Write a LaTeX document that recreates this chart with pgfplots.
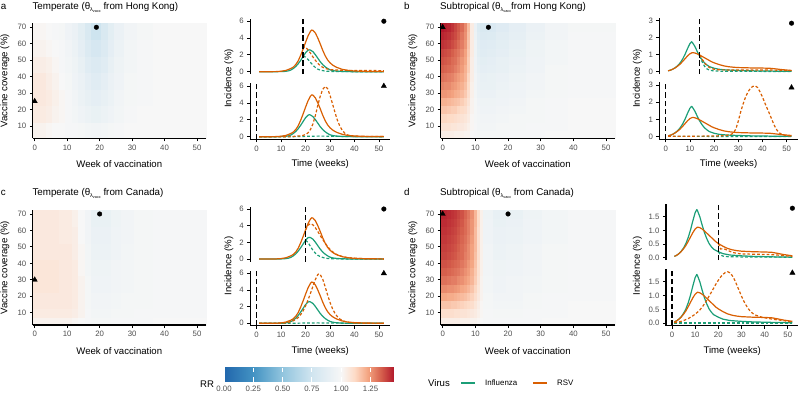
\documentclass[border=0pt]{standalone}
\usepackage{pgfplots}
\pgfplotsset{compat=1.18}
\usepackage{pgfplotstable}
\usepackage{fontspec}
\setmainfont{Liberation Sans}
\definecolor{flu}{HTML}{1B9E77}
\definecolor{rsv}{HTML}{D95F02}
\definecolor{tickgray}{HTML}{4D4D4D}
\newcommand\fT{\fontsize{9.8}{11}\selectfont}
\newcommand\fL{\fontsize{9.6}{11}\selectfont}
\newcommand\fK{\fontsize{7.8}{9}\selectfont}
\newcommand\fS{\fontsize{7.9}{9}\selectfont}
\newcommand\thl{θ\raisebox{-0.35ex}{\fontsize{5.5}{6}\selectfont λ\raisebox{-0.35ex}{\fontsize{3.8}{4}\selectfont vacc}}}
\pgfplotsset{
  colormap={rr}{[1pt] rgb255(0pt)=(33,102,172); rgb255(250pt)=(67,147,195); rgb255(500pt)=(146,197,222); rgb255(750pt)=(209,229,240); rgb255(1000pt)=(247,247,247); rgb255(1113pt)=(253,219,199); rgb255(1225pt)=(244,165,130); rgb255(1338pt)=(214,96,77); rgb255(1450pt)=(178,24,43)},
  base/.style={scale only axis, anchor=south west, clip=false,
    axis y line*=left, axis line style={-, line width=1.1pt},
    tick align=outside, major tick length=3pt,
    tick style={black, line width=0.8pt},
    tick label style={font=\fK, text=tickgray},
    /pgf/number format/assume math mode=true},
  hm/.style={base, height=115.15pt,
    xmin=-0.6, xmax=52.7, ymin=2.5, ymax=72.5,
    xtick={0,10,...,50}, ytick={10,20,...,70},
    axis x line*=bottom,
    colormap name=rr, point meta min=0, point meta max=1.45},
  lp/.style={base, xmin=-2.6, xmax=54.6},
  lptop/.style={lp, axis x line=none},
  lpbot/.style={lp, axis x line*=bottom, xtick={0,10,...,50}},
  hmplot/.style={surf, shader=flat corner, mesh/cols=#1, point meta=explicit},
  fs/.style={flu, line width=1.2pt, line join=round},
  fd/.style={flu, line width=1.2pt, dash pattern=on 2.8pt off 2pt},
  rs/.style={rsv, line width=1.2pt, line join=round},
  rd/.style={rsv, line width=1.2pt, dash pattern=on 2.8pt off 2pt},
  vl/.style={black, line width=1.3pt, dash pattern=on 5.5pt off 2.8pt},
  dot/.style={only marks, mark=*, mark size=2.3pt, black},
  tri/.style={only marks, mark=triangle*, mark size=3pt, black},
}
\pgfplotstableread{
x y v
-0.6 2.5 1.02
1.5 2.5 1.02
3.5 2.5 1.01
5.5 2.5 1.00
7.5 2.5 1.00
9.5 2.5 0.99
11.5 2.5 0.99
13.5 2.5 0.98
15.5 2.5 0.97
17.5 2.5 0.96
20.5 2.5 0.97
22.5 2.5 0.98
24.5 2.5 0.99
27.5 2.5 1.00
31.5 2.5 1.00
36.5 2.5 1.00
52.7 2.5 1
-0.6 12.5 1.05
1.5 12.5 1.05
3.5 12.5 1.04
5.5 12.5 1.02
7.5 12.5 1.01
9.5 12.5 0.99
11.5 12.5 0.97
13.5 12.5 0.95
15.5 12.5 0.93
17.5 12.5 0.91
20.5 12.5 0.93
22.5 12.5 0.95
24.5 12.5 0.97
27.5 12.5 0.99
31.5 12.5 1.00
36.5 12.5 1.00
52.7 12.5 1
-0.6 22.5 1.06
1.5 22.5 1.06
3.5 22.5 1.05
5.5 22.5 1.03
7.5 22.5 1.01
9.5 22.5 0.99
11.5 22.5 0.96
13.5 22.5 0.93
15.5 22.5 0.90
17.5 22.5 0.88
20.5 22.5 0.90
22.5 22.5 0.93
24.5 22.5 0.96
27.5 22.5 0.98
31.5 22.5 0.99
36.5 22.5 1.00
52.7 22.5 1
-0.6 32.5 1.06
1.5 32.5 1.06
3.5 32.5 1.04
5.5 32.5 1.02
7.5 32.5 1.00
9.5 32.5 0.98
11.5 32.5 0.95
13.5 32.5 0.92
15.5 32.5 0.88
17.5 32.5 0.85
20.5 32.5 0.88
22.5 32.5 0.92
24.5 32.5 0.95
27.5 32.5 0.98
31.5 32.5 0.99
36.5 32.5 1.00
52.7 32.5 1
-0.6 42.5 1.04
1.5 42.5 1.04
3.5 42.5 1.03
5.5 42.5 1.01
7.5 42.5 0.99
9.5 42.5 0.97
11.5 42.5 0.94
13.5 42.5 0.90
15.5 42.5 0.85
17.5 42.5 0.82
20.5 42.5 0.85
22.5 42.5 0.90
24.5 42.5 0.94
27.5 42.5 0.97
31.5 42.5 0.99
36.5 42.5 1.00
52.7 42.5 1
-0.6 52.5 1.02
1.5 52.5 1.02
3.5 52.5 1.01
5.5 52.5 1.00
7.5 52.5 0.99
9.5 52.5 0.96
11.5 52.5 0.93
13.5 52.5 0.88
15.5 52.5 0.82
17.5 52.5 0.78
20.5 52.5 0.82
22.5 52.5 0.88
24.5 52.5 0.93
27.5 52.5 0.97
31.5 52.5 0.99
36.5 52.5 1.00
52.7 52.5 1
-0.6 62.5 1.01
1.5 62.5 1.01
3.5 62.5 1.00
5.5 62.5 0.99
7.5 62.5 0.98
9.5 62.5 0.95
11.5 62.5 0.92
13.5 62.5 0.87
15.5 62.5 0.80
17.5 62.5 0.74
20.5 62.5 0.80
22.5 62.5 0.87
24.5 62.5 0.92
27.5 62.5 0.96
31.5 62.5 0.98
36.5 62.5 1.00
52.7 62.5 1
-0.6 72.5 1
1.5 72.5 1
3.5 72.5 1
5.5 72.5 1
7.5 72.5 1
9.5 72.5 1
11.5 72.5 1
13.5 72.5 1
15.5 72.5 1
17.5 72.5 1
20.5 72.5 1
22.5 72.5 1
24.5 72.5 1
27.5 72.5 1
31.5 72.5 1
36.5 72.5 1
52.7 72.5 1
}\hmA
\pgfplotstableread{
x y v
-0.6 2.5 1.02
3.5 2.5 1.02
7.5 2.5 1.02
11.5 2.5 1.01
13.5 2.5 1.00
15.5 2.5 0.99
17.5 2.5 0.98
20.5 2.5 0.98
23.5 2.5 0.99
26.5 2.5 0.99
30.5 2.5 0.99
36.5 2.5 1.00
52.7 2.5 1
-0.6 7.5 1.05
3.5 7.5 1.05
7.5 7.5 1.05
11.5 7.5 1.04
13.5 7.5 1.02
15.5 7.5 0.99
17.5 7.5 0.97
20.5 7.5 0.97
23.5 7.5 0.98
26.5 7.5 0.98
30.5 7.5 0.99
36.5 7.5 0.99
52.7 7.5 1
-0.6 12.5 1.06
3.5 12.5 1.06
7.5 12.5 1.06
11.5 12.5 1.05
13.5 12.5 1.02
15.5 12.5 0.98
17.5 12.5 0.96
20.5 12.5 0.96
23.5 12.5 0.97
26.5 12.5 0.98
30.5 12.5 0.98
36.5 12.5 0.99
52.7 12.5 1
-0.6 22.5 1.07
3.5 22.5 1.07
7.5 22.5 1.06
11.5 22.5 1.05
13.5 22.5 1.02
15.5 22.5 0.98
17.5 22.5 0.95
20.5 22.5 0.95
23.5 22.5 0.96
26.5 22.5 0.97
30.5 22.5 0.98
36.5 22.5 0.99
52.7 22.5 1
-0.6 32.5 1.07
3.5 32.5 1.07
7.5 32.5 1.06
11.5 32.5 1.05
13.5 32.5 1.01
15.5 32.5 0.97
17.5 32.5 0.94
20.5 32.5 0.94
23.5 32.5 0.96
26.5 32.5 0.97
30.5 32.5 0.98
36.5 32.5 0.99
52.7 32.5 1
-0.6 42.5 1.06
3.5 42.5 1.06
7.5 42.5 1.06
11.5 42.5 1.04
13.5 42.5 1.01
15.5 42.5 0.97
17.5 42.5 0.93
20.5 42.5 0.93
23.5 42.5 0.95
26.5 42.5 0.97
30.5 42.5 0.98
36.5 42.5 0.99
52.7 42.5 1
-0.6 52.5 1.06
3.5 52.5 1.06
7.5 52.5 1.05
11.5 52.5 1.04
13.5 52.5 1.00
15.5 52.5 0.96
17.5 52.5 0.92
20.5 52.5 0.92
23.5 52.5 0.95
26.5 52.5 0.96
30.5 52.5 0.98
36.5 52.5 0.99
52.7 52.5 1
-0.6 62.5 1.06
3.5 62.5 1.06
7.5 62.5 1.05
11.5 62.5 1.03
13.5 62.5 1.00
15.5 62.5 0.96
17.5 62.5 0.91
20.5 62.5 0.91
23.5 62.5 0.94
26.5 62.5 0.96
30.5 62.5 0.98
36.5 62.5 0.99
52.7 62.5 1
-0.6 72.5 1
3.5 72.5 1
7.5 72.5 1
11.5 72.5 1
13.5 72.5 1
15.5 72.5 1
17.5 72.5 1
20.5 72.5 1
23.5 72.5 1
26.5 72.5 1
30.5 72.5 1
36.5 72.5 1
52.7 72.5 1
}\hmC
\pgfplotstableread{
x y v
-0.6 2.5 1.04
0.5 2.5 1.04
1.5 2.5 1.04
2.5 2.5 1.04
3.5 2.5 1.03
4.5 2.5 1.03
5.5 2.5 1.03
6.5 2.5 1.02
7.5 2.5 1.02
8.5 2.5 1.00
9.5 2.5 0.99
10.5 2.5 0.98
11.5 2.5 0.98
13.5 2.5 0.98
16.5 2.5 0.98
20.5 2.5 0.99
25.5 2.5 0.99
31.5 2.5 1.00
38.5 2.5 1.00
52.7 2.5 1
-0.6 7.5 1.08
0.5 7.5 1.08
1.5 7.5 1.08
2.5 7.5 1.07
3.5 7.5 1.07
4.5 7.5 1.06
5.5 7.5 1.06
6.5 7.5 1.05
7.5 7.5 1.03
8.5 7.5 1.01
9.5 7.5 0.99
10.5 7.5 0.97
11.5 7.5 0.97
13.5 7.5 0.97
16.5 7.5 0.98
20.5 7.5 0.98
25.5 7.5 0.99
31.5 7.5 0.99
38.5 7.5 1.00
52.7 7.5 1
-0.6 12.5 1.12
0.5 12.5 1.12
1.5 12.5 1.11
2.5 12.5 1.11
3.5 12.5 1.10
4.5 12.5 1.09
5.5 12.5 1.08
6.5 12.5 1.07
7.5 12.5 1.05
8.5 12.5 1.01
9.5 12.5 0.98
10.5 12.5 0.97
11.5 12.5 0.96
13.5 12.5 0.96
16.5 12.5 0.97
20.5 12.5 0.98
25.5 12.5 0.98
31.5 12.5 0.99
38.5 12.5 1.00
52.7 12.5 1
-0.6 17.5 1.16
0.5 17.5 1.16
1.5 17.5 1.15
2.5 17.5 1.14
3.5 17.5 1.14
4.5 17.5 1.12
5.5 17.5 1.11
6.5 17.5 1.10
7.5 17.5 1.06
8.5 17.5 1.02
9.5 17.5 0.98
10.5 17.5 0.96
11.5 17.5 0.95
13.5 17.5 0.95
16.5 17.5 0.96
20.5 17.5 0.97
25.5 17.5 0.98
31.5 17.5 0.99
38.5 17.5 1.00
52.7 17.5 1
-0.6 22.5 1.20
0.5 22.5 1.20
1.5 22.5 1.19
2.5 22.5 1.18
3.5 22.5 1.17
4.5 22.5 1.16
5.5 22.5 1.14
6.5 22.5 1.12
7.5 22.5 1.08
8.5 22.5 1.02
9.5 22.5 0.98
10.5 22.5 0.95
11.5 22.5 0.94
13.5 22.5 0.94
16.5 22.5 0.95
20.5 22.5 0.96
25.5 22.5 0.98
31.5 22.5 0.99
38.5 22.5 1.00
52.7 22.5 1
-0.6 27.5 1.25
0.5 27.5 1.25
1.5 27.5 1.24
2.5 27.5 1.23
3.5 27.5 1.21
4.5 27.5 1.20
5.5 27.5 1.18
6.5 27.5 1.15
7.5 27.5 1.10
8.5 27.5 1.03
9.5 27.5 0.97
10.5 27.5 0.93
11.5 27.5 0.92
13.5 27.5 0.92
16.5 27.5 0.94
20.5 27.5 0.95
25.5 27.5 0.97
31.5 27.5 0.98
38.5 27.5 0.99
52.7 27.5 1
-0.6 32.5 1.28
0.5 32.5 1.27
1.5 32.5 1.27
2.5 32.5 1.25
3.5 32.5 1.24
4.5 32.5 1.22
5.5 32.5 1.20
6.5 32.5 1.17
7.5 32.5 1.11
8.5 32.5 1.03
9.5 32.5 0.96
10.5 32.5 0.92
11.5 32.5 0.91
13.5 32.5 0.91
16.5 32.5 0.93
20.5 32.5 0.95
25.5 32.5 0.96
31.5 32.5 0.98
38.5 32.5 0.99
52.7 32.5 1
-0.6 37.5 1.31
0.5 37.5 1.30
1.5 37.5 1.29
2.5 37.5 1.28
3.5 37.5 1.26
4.5 37.5 1.24
5.5 37.5 1.22
6.5 37.5 1.19
7.5 37.5 1.12
8.5 37.5 1.04
9.5 37.5 0.96
10.5 37.5 0.92
11.5 37.5 0.90
13.5 37.5 0.91
16.5 37.5 0.92
20.5 37.5 0.94
25.5 37.5 0.96
31.5 37.5 0.98
38.5 37.5 0.99
52.7 37.5 1
-0.6 42.5 1.34
0.5 42.5 1.33
1.5 42.5 1.32
2.5 42.5 1.31
3.5 42.5 1.29
4.5 42.5 1.27
5.5 42.5 1.24
6.5 42.5 1.20
7.5 42.5 1.14
8.5 42.5 1.04
9.5 42.5 0.95
10.5 42.5 0.90
11.5 42.5 0.88
13.5 42.5 0.89
16.5 42.5 0.90
20.5 42.5 0.93
25.5 42.5 0.95
31.5 42.5 0.98
38.5 42.5 0.99
52.7 42.5 1
-0.6 47.5 1.36
0.5 47.5 1.35
1.5 47.5 1.34
2.5 47.5 1.32
3.5 47.5 1.31
4.5 47.5 1.28
5.5 47.5 1.25
6.5 47.5 1.22
7.5 47.5 1.14
8.5 47.5 1.04
9.5 47.5 0.95
10.5 47.5 0.89
11.5 47.5 0.87
13.5 47.5 0.88
16.5 47.5 0.90
20.5 47.5 0.92
25.5 47.5 0.95
31.5 47.5 0.97
38.5 47.5 0.99
52.7 47.5 1
-0.6 52.5 1.38
0.5 52.5 1.37
1.5 52.5 1.36
2.5 52.5 1.34
3.5 52.5 1.32
4.5 52.5 1.30
5.5 52.5 1.27
6.5 52.5 1.23
7.5 52.5 1.15
8.5 52.5 1.05
9.5 52.5 0.94
10.5 52.5 0.87
11.5 52.5 0.85
13.5 52.5 0.86
16.5 52.5 0.88
20.5 52.5 0.91
25.5 52.5 0.94
31.5 52.5 0.97
38.5 52.5 0.99
52.7 52.5 1
-0.6 57.5 1.41
0.5 57.5 1.40
1.5 57.5 1.39
2.5 57.5 1.37
3.5 57.5 1.35
4.5 57.5 1.32
5.5 57.5 1.29
6.5 57.5 1.25
7.5 57.5 1.16
8.5 57.5 1.05
9.5 57.5 0.94
10.5 57.5 0.86
11.5 57.5 0.84
13.5 57.5 0.85
16.5 57.5 0.87
20.5 57.5 0.90
25.5 57.5 0.94
31.5 57.5 0.97
38.5 57.5 0.99
52.7 57.5 1
-0.6 62.5 1.43
0.5 62.5 1.42
1.5 62.5 1.41
2.5 62.5 1.39
3.5 62.5 1.37
4.5 62.5 1.34
5.5 62.5 1.30
6.5 62.5 1.26
7.5 62.5 1.17
8.5 62.5 1.05
9.5 62.5 0.93
10.5 62.5 0.85
11.5 62.5 0.82
13.5 62.5 0.83
16.5 62.5 0.86
20.5 62.5 0.89
25.5 62.5 0.93
31.5 62.5 0.96
38.5 62.5 0.99
52.7 62.5 1
-0.6 67.5 1.45
0.5 67.5 1.44
1.5 67.5 1.43
2.5 67.5 1.41
3.5 67.5 1.38
4.5 67.5 1.35
5.5 67.5 1.32
6.5 67.5 1.27
7.5 67.5 1.18
8.5 67.5 1.05
9.5 67.5 0.92
10.5 67.5 0.83
11.5 67.5 0.80
13.5 67.5 0.81
16.5 67.5 0.84
20.5 67.5 0.88
25.5 67.5 0.92
31.5 67.5 0.96
38.5 67.5 0.98
52.7 67.5 1
-0.6 72.5 1
0.5 72.5 1
1.5 72.5 1
2.5 72.5 1
3.5 72.5 1
4.5 72.5 1
5.5 72.5 1
6.5 72.5 1
7.5 72.5 1
8.5 72.5 1
9.5 72.5 1
10.5 72.5 1
11.5 72.5 1
13.5 72.5 1
16.5 72.5 1
20.5 72.5 1
25.5 72.5 1
31.5 72.5 1
38.5 72.5 1
52.7 72.5 1
}\hmB
\pgfplotstableread{
x y v
-0.6 2.5 1.04
0.5 2.5 1.04
1.5 2.5 1.04
2.5 2.5 1.04
3.5 2.5 1.04
4.5 2.5 1.04
5.5 2.5 1.03
6.5 2.5 1.03
7.5 2.5 1.03
8.5 2.5 1.02
9.5 2.5 1.02
10.5 2.5 1.01
11.5 2.5 1.00
12.5 2.5 0.99
15.5 2.5 0.99
19.5 2.5 0.99
24.5 2.5 0.99
30.5 2.5 1.00
38.5 2.5 1.00
52.7 2.5 1
-0.6 7.5 1.10
0.5 7.5 1.10
1.5 7.5 1.10
2.5 7.5 1.10
3.5 7.5 1.09
4.5 7.5 1.09
5.5 7.5 1.08
6.5 7.5 1.08
7.5 7.5 1.07
8.5 7.5 1.06
9.5 7.5 1.05
10.5 7.5 1.03
11.5 7.5 1.01
12.5 7.5 0.99
15.5 7.5 0.98
19.5 7.5 0.98
24.5 7.5 0.99
30.5 7.5 0.99
38.5 7.5 1.00
52.7 7.5 1
-0.6 12.5 1.16
0.5 12.5 1.16
1.5 12.5 1.16
2.5 12.5 1.15
3.5 12.5 1.15
4.5 12.5 1.14
5.5 12.5 1.13
6.5 12.5 1.12
7.5 12.5 1.11
8.5 12.5 1.10
9.5 12.5 1.07
10.5 12.5 1.04
11.5 12.5 1.01
12.5 12.5 0.98
15.5 12.5 0.97
19.5 12.5 0.97
24.5 12.5 0.98
30.5 12.5 0.99
38.5 12.5 1.00
52.7 12.5 1
-0.6 17.5 1.22
0.5 17.5 1.22
1.5 17.5 1.21
2.5 17.5 1.21
3.5 17.5 1.20
4.5 17.5 1.19
5.5 17.5 1.18
6.5 17.5 1.17
7.5 17.5 1.15
8.5 17.5 1.13
9.5 17.5 1.10
10.5 17.5 1.06
11.5 17.5 1.02
12.5 17.5 0.98
15.5 17.5 0.96
19.5 17.5 0.96
24.5 17.5 0.98
30.5 17.5 0.99
38.5 17.5 0.99
52.7 17.5 1
-0.6 22.5 1.27
0.5 22.5 1.27
1.5 22.5 1.26
2.5 22.5 1.26
3.5 22.5 1.25
4.5 22.5 1.24
5.5 22.5 1.22
6.5 22.5 1.21
7.5 22.5 1.19
8.5 22.5 1.16
9.5 22.5 1.12
10.5 22.5 1.07
11.5 22.5 1.02
12.5 22.5 0.97
15.5 22.5 0.95
19.5 22.5 0.96
24.5 22.5 0.97
30.5 22.5 0.98
38.5 22.5 0.99
52.7 22.5 1
-0.6 27.5 1.31
0.5 27.5 1.31
1.5 27.5 1.30
2.5 27.5 1.29
3.5 27.5 1.29
4.5 27.5 1.27
5.5 27.5 1.26
6.5 27.5 1.24
7.5 27.5 1.22
8.5 27.5 1.19
9.5 27.5 1.14
10.5 27.5 1.08
11.5 27.5 1.02
12.5 27.5 0.97
15.5 27.5 0.95
19.5 27.5 0.96
24.5 27.5 0.97
30.5 27.5 0.98
38.5 27.5 0.99
52.7 27.5 1
-0.6 32.5 1.34
0.5 32.5 1.34
1.5 32.5 1.33
2.5 32.5 1.32
3.5 32.5 1.31
4.5 32.5 1.30
5.5 32.5 1.28
6.5 32.5 1.26
7.5 32.5 1.24
8.5 32.5 1.20
9.5 32.5 1.15
10.5 32.5 1.09
11.5 32.5 1.03
12.5 32.5 0.96
15.5 32.5 0.94
19.5 32.5 0.95
24.5 32.5 0.96
30.5 32.5 0.98
38.5 32.5 0.99
52.7 32.5 1
-0.6 37.5 1.36
0.5 37.5 1.36
1.5 37.5 1.35
2.5 37.5 1.34
3.5 37.5 1.33
4.5 37.5 1.32
5.5 37.5 1.30
6.5 37.5 1.28
7.5 37.5 1.25
8.5 37.5 1.22
9.5 37.5 1.16
10.5 37.5 1.09
11.5 37.5 1.03
12.5 37.5 0.96
15.5 37.5 0.94
19.5 37.5 0.95
24.5 37.5 0.96
30.5 37.5 0.98
38.5 37.5 0.99
52.7 37.5 1
-0.6 42.5 1.38
0.5 42.5 1.38
1.5 42.5 1.37
2.5 42.5 1.36
3.5 42.5 1.35
4.5 42.5 1.33
5.5 42.5 1.32
6.5 42.5 1.29
7.5 42.5 1.27
8.5 42.5 1.23
9.5 42.5 1.17
10.5 42.5 1.10
11.5 42.5 1.03
12.5 42.5 0.96
15.5 42.5 0.93
19.5 42.5 0.94
24.5 42.5 0.96
30.5 42.5 0.98
38.5 42.5 0.99
52.7 42.5 1
-0.6 47.5 1.39
0.5 47.5 1.39
1.5 47.5 1.38
2.5 47.5 1.37
3.5 47.5 1.36
4.5 47.5 1.34
5.5 47.5 1.32
6.5 47.5 1.30
7.5 47.5 1.27
8.5 47.5 1.23
9.5 47.5 1.18
10.5 47.5 1.10
11.5 47.5 1.03
12.5 47.5 0.96
15.5 47.5 0.93
19.5 47.5 0.94
24.5 47.5 0.96
30.5 47.5 0.98
38.5 47.5 0.99
52.7 47.5 1
-0.6 52.5 1.40
0.5 52.5 1.40
1.5 52.5 1.39
2.5 52.5 1.38
3.5 52.5 1.37
4.5 52.5 1.35
5.5 52.5 1.33
6.5 52.5 1.31
7.5 52.5 1.28
8.5 52.5 1.24
9.5 52.5 1.18
10.5 52.5 1.10
11.5 52.5 1.03
12.5 52.5 0.95
15.5 52.5 0.92
19.5 52.5 0.93
24.5 52.5 0.95
30.5 52.5 0.97
38.5 52.5 0.99
52.7 52.5 1
-0.6 57.5 1.41
0.5 57.5 1.41
1.5 57.5 1.40
2.5 57.5 1.39
3.5 57.5 1.38
4.5 57.5 1.36
5.5 57.5 1.34
6.5 57.5 1.32
7.5 57.5 1.29
8.5 57.5 1.25
9.5 57.5 1.18
10.5 57.5 1.10
11.5 57.5 1.03
12.5 57.5 0.95
15.5 57.5 0.92
19.5 57.5 0.93
24.5 57.5 0.95
30.5 57.5 0.97
38.5 57.5 0.99
52.7 57.5 1
-0.6 62.5 1.42
0.5 62.5 1.42
1.5 62.5 1.41
2.5 62.5 1.40
3.5 62.5 1.39
4.5 62.5 1.37
5.5 62.5 1.35
6.5 62.5 1.32
7.5 62.5 1.29
8.5 62.5 1.25
9.5 62.5 1.19
10.5 62.5 1.11
11.5 62.5 1.03
12.5 62.5 0.95
15.5 62.5 0.91
19.5 62.5 0.92
24.5 62.5 0.95
30.5 62.5 0.97
38.5 62.5 0.99
52.7 62.5 1
-0.6 67.5 1.43
0.5 67.5 1.43
1.5 67.5 1.42
2.5 67.5 1.41
3.5 67.5 1.40
4.5 67.5 1.38
5.5 67.5 1.36
6.5 67.5 1.33
7.5 67.5 1.30
8.5 67.5 1.26
9.5 67.5 1.19
10.5 67.5 1.11
11.5 67.5 1.03
12.5 67.5 0.94
15.5 67.5 0.90
19.5 67.5 0.91
24.5 67.5 0.94
30.5 67.5 0.97
38.5 67.5 0.99
52.7 67.5 1
-0.6 72.5 1
0.5 72.5 1
1.5 72.5 1
2.5 72.5 1
3.5 72.5 1
4.5 72.5 1
5.5 72.5 1
6.5 72.5 1
7.5 72.5 1
8.5 72.5 1
9.5 72.5 1
10.5 72.5 1
11.5 72.5 1
12.5 72.5 1
15.5 72.5 1
19.5 72.5 1
24.5 72.5 1
30.5 72.5 1
38.5 72.5 1
52.7 72.5 1
}\hmD
\begin{document}
\begin{tikzpicture}
\useasboundingbox (0,0) rectangle (799pt,405pt);
% ---------- heatmaps (fill first, then axes on top) ----------
\begin{axis}[hm, hide axis, at={(32.75pt,266.7pt)}, width=173.05pt]
\addplot[hmplot=17] table[x=x,y=y,meta=v] {\hmA};
\end{axis}
\begin{axis}[hm, at={(32.75pt,266.7pt)}, width=173.05pt]
\addplot[dot] coordinates {(19,70)};
\addplot[tri] coordinates {(0,25)};
\end{axis}
\begin{axis}[hm, hide axis, at={(440.74pt,266.7pt)}, width=174.1pt]
\addplot[hmplot=20] table[x=x,y=y,meta=v] {\hmB};
\end{axis}
\begin{axis}[hm, at={(440.74pt,266.7pt)}, width=174.1pt]
\addplot[dot] coordinates {(14,70)};
\addplot[tri] coordinates {(0,70)};
\end{axis}
\begin{axis}[hm, hide axis, at={(32.75pt,80pt)}, width=173.05pt]
\addplot[hmplot=13] table[x=x,y=y,meta=v] {\hmC};
\end{axis}
\begin{axis}[hm, at={(32.75pt,80pt)}, width=173.05pt]
\addplot[dot] coordinates {(20,70)};
\addplot[tri] coordinates {(0,30)};
\end{axis}
\begin{axis}[hm, hide axis, at={(440.74pt,80pt)}, width=174.1pt]
\addplot[hmplot=20] table[x=x,y=y,meta=v] {\hmD};
\end{axis}
\begin{axis}[hm, at={(440.74pt,80pt)}, width=174.1pt]
\addplot[dot] coordinates {(20,70)};
\addplot[tri] coordinates {(0,70)};
\end{axis}
% ---------- panel a lines ----------
\begin{axis}[lptop, at={(250.3pt,330.8pt)}, width=139.9pt, height=55.5pt, ymin=-0.3, ymax=6.3, ytick={0,2,4,6}]
\addplot[fs] coordinates {(1,0) (8,0) (10,0.01) (11,0.02) (12,0.05) (13,0.1) (14,0.2) (15,0.38) (16,0.62) (17,0.95) (18,1.35) (19,1.8) (20,2.25) (21,2.55) (21.5,2.6) (22,2.57) (23,2.38) (24,2.02) (25,1.6) (26,1.18) (27,0.84) (28,0.58) (29,0.38) (30,0.22) (31,0.14) (32,0.09) (34,0.04) (37,0.01) (40,0) (52,0)};
\addplot[fd] coordinates {(19,1.8) (20,1.75) (21,1.45) (22,1.1) (23,0.78) (24,0.5) (25,0.3) (26,0.18) (28,0.07) (30,0.03) (35,0.01) (40,0) (52,0)};
\addplot[rs] coordinates {(1,0) (6,0) (8,0.01) (10,0.05) (12,0.15) (14,0.38) (15,0.55) (16,0.85) (17,1.3) (18,1.95) (19,2.7) (20,3.5) (21,4.25) (22,4.8) (22.5,4.95) (23,4.92) (24,4.6) (25,4.0) (26,3.3) (27,2.55) (28,1.9) (29,1.4) (30,1.05) (31,0.8) (32,0.62) (33,0.48) (35,0.28) (37,0.16) (40,0.08) (45,0.03) (52,0.01)};
\addplot[rd] coordinates {(19,2.7) (19.5,2.95) (20,2.9) (21,2.6) (22,2.2) (23,1.75) (24,1.35) (25,1.0) (26,0.72) (27,0.52) (28,0.38) (30,0.25) (32,0.2) (35,0.17) (40,0.15) (45,0.14) (52,0.12)};
\addplot[vl] coordinates {(19,-0.3) (19,6.3)};
\addplot[dot] coordinates {(52,6)};
\end{axis}
\begin{axis}[lpbot, at={(250.3pt,265.8pt)}, width=139.9pt, height=55.7pt, ymin=-0.3, ymax=6.3, ytick={0,2,4,6}]
\addplot[fs] coordinates {(1,0) (8,0) (10,0.01) (11,0.02) (12,0.05) (13,0.1) (14,0.2) (15,0.38) (16,0.62) (17,0.95) (18,1.35) (19,1.8) (20,2.25) (21,2.55) (21.5,2.6) (22,2.57) (23,2.38) (24,2.02) (25,1.6) (26,1.18) (27,0.84) (28,0.58) (29,0.38) (30,0.22) (31,0.14) (32,0.09) (34,0.04) (37,0.01) (40,0) (52,0)};
\addplot[fd] coordinates {(1,0) (15,0) (18,0.02) (22,0.05) (26,0.07) (30,0.05) (34,0.03) (40,0.01) (52,0)};
\addplot[rs] coordinates {(1,0) (6,0) (8,0.01) (10,0.05) (12,0.15) (14,0.38) (15,0.55) (16,0.85) (17,1.3) (18,1.95) (19,2.7) (20,3.5) (21,4.25) (22,4.8) (22.5,4.95) (23,4.92) (24,4.6) (25,4.0) (26,3.3) (27,2.55) (28,1.9) (29,1.4) (30,1.05) (31,0.8) (32,0.62) (33,0.48) (35,0.28) (37,0.16) (40,0.08) (45,0.03) (52,0.01)};
\addplot[rd] coordinates {(1,0) (12,0) (15,0.03) (18,0.1) (19,0.15) (20,0.25) (21,0.45) (22,0.85) (23,1.5) (24,2.5) (25,3.7) (26,4.8) (27,5.6) (28,5.95) (29,5.7) (30,4.9) (31,3.9) (32,2.9) (33,1.95) (34,1.25) (35,0.75) (36,0.42) (37,0.22) (38,0.12) (40,0.05) (44,0.02) (52,0.01)};
\addplot[vl] coordinates {(0,-0.3) (0,6.3)};
\addplot[tri] coordinates {(52,6)};
\end{axis}
% ---------- panel c lines ----------
\begin{axis}[lptop, at={(250.3pt,143.5pt)}, width=139.9pt, height=55pt, ymin=-0.3, ymax=6.3, ytick={0,2,4,6}]
\addplot[fs] coordinates {(1,0) (8,0) (10,0.01) (11,0.02) (12,0.05) (13,0.1) (14,0.2) (15,0.38) (16,0.62) (17,0.95) (18,1.35) (19,1.8) (20,2.25) (21,2.55) (21.5,2.6) (22,2.57) (23,2.38) (24,2.02) (25,1.6) (26,1.18) (27,0.84) (28,0.58) (29,0.38) (30,0.22) (31,0.14) (32,0.09) (34,0.04) (37,0.01) (40,0) (52,0)};
\addplot[fd] coordinates {(20,2.25) (21,2.0) (22,1.5) (23,1.05) (24,0.7) (25,0.45) (26,0.28) (28,0.1) (30,0.04) (35,0.01) (40,0) (52,0)};
\addplot[rs] coordinates {(1,0) (6,0) (8,0.01) (10,0.05) (12,0.15) (14,0.38) (15,0.55) (16,0.85) (17,1.3) (18,1.95) (19,2.7) (20,3.5) (21,4.25) (22,4.8) (22.5,4.95) (23,4.92) (24,4.6) (25,4.0) (26,3.3) (27,2.55) (28,1.9) (29,1.4) (30,1.05) (31,0.8) (32,0.62) (33,0.48) (35,0.28) (37,0.16) (40,0.08) (45,0.03) (52,0.01)};
\addplot[rd] coordinates {(20,3.5) (21,4.05) (22,4.25) (23,4.1) (24,3.75) (25,3.3) (26,2.8) (27,2.35) (28,1.9) (29,1.5) (30,1.15) (31,0.88) (32,0.66) (33,0.5) (35,0.3) (37,0.18) (40,0.09) (45,0.03) (52,0.01)};
\addplot[vl] coordinates {(20,-0.3) (20,6.3)};
\addplot[dot] coordinates {(52,6)};
\end{axis}
\begin{axis}[lpbot, at={(250.3pt,79.2pt)}, width=139.9pt, height=55pt, ymin=-0.3, ymax=6.3, ytick={0,2,4,6}]
\addplot[fs] coordinates {(1,0) (8,0) (10,0.01) (11,0.02) (12,0.05) (13,0.1) (14,0.2) (15,0.38) (16,0.62) (17,0.95) (18,1.35) (19,1.8) (20,2.25) (21,2.55) (21.5,2.6) (22,2.57) (23,2.38) (24,2.02) (25,1.6) (26,1.18) (27,0.84) (28,0.58) (29,0.38) (30,0.22) (31,0.14) (32,0.09) (34,0.04) (37,0.01) (40,0) (52,0)};
\addplot[fd] coordinates {(1,0) (15,0.01) (20,0.03) (25,0.05) (30,0.03) (40,0) (52,0)};
\addplot[rs] coordinates {(1,0) (6,0) (8,0.01) (10,0.05) (12,0.15) (14,0.38) (15,0.55) (16,0.85) (17,1.3) (18,1.95) (19,2.7) (20,3.5) (21,4.25) (22,4.8) (22.5,4.95) (23,4.92) (24,4.6) (25,4.0) (26,3.3) (27,2.55) (28,1.9) (29,1.4) (30,1.05) (31,0.8) (32,0.62) (33,0.48) (35,0.28) (37,0.16) (40,0.08) (45,0.03) (52,0.01)};
\addplot[rd] coordinates {(1,0) (8,0) (10,0.02) (12,0.06) (14,0.18) (16,0.45) (17,0.7) (18,1.05) (19,1.5) (20,2.1) (21,2.8) (22,3.6) (23,4.45) (24,5.25) (25,5.85) (25.5,5.95) (26,5.85) (27,5.3) (28,4.4) (29,3.4) (30,2.5) (31,1.75) (32,1.2) (33,0.8) (34,0.52) (36,0.22) (38,0.09) (40,0.04) (45,0.01) (52,0)};
\addplot[vl] coordinates {(0,-0.3) (0,6.3)};
\addplot[tri] coordinates {(52,6)};
\end{axis}
% ---------- panel b lines ----------
\begin{axis}[lptop, at={(659.4pt,330.8pt)}, width=138.4pt, height=56.1pt, ymin=-0.15, ymax=3.15, ytick={0,1,2,3}]
\addplot[fs] coordinates {(1,0.05) (2,0.09) (3,0.15) (4,0.24) (5,0.36) (6,0.52) (7,0.74) (8,1.02) (9,1.35) (10,1.65) (10.7,1.76) (11,1.72) (12,1.5) (13,1.2) (14,0.92) (15,0.7) (16,0.52) (17,0.4) (18,0.3) (20,0.2) (22,0.14) (25,0.1) (30,0.07) (35,0.05) (40,0.04) (45,0.03) (52,0.02)};
\addplot[fd] coordinates {(14,0.92) (15,0.6) (16,0.33) (17,0.17) (18,0.09) (20,0.04) (25,0.02) (52,0.01)};
\addplot[rs] coordinates {(1,0.05) (2,0.09) (3,0.15) (4,0.23) (5,0.33) (6,0.45) (7,0.6) (8,0.76) (9,0.92) (10,1.05) (11,1.12) (12,1.1) (13,1.05) (14,0.98) (15,0.9) (16,0.82) (17,0.74) (18,0.66) (19,0.58) (20,0.52) (22,0.42) (24,0.34) (26,0.29) (28,0.26) (30,0.24) (35,0.22) (40,0.21) (43,0.2) (45,0.17) (48,0.12) (52,0.07)};
\addplot[rd] coordinates {(14,0.98) (15,0.75) (16,0.52) (17,0.36) (18,0.25) (19,0.18) (20,0.14) (22,0.11) (25,0.1) (40,0.1) (45,0.09) (48,0.08) (52,0.06)};
\addplot[vl] coordinates {(14,-0.15) (14,3.15)};
\addplot[dot] coordinates {(52,2.85)};
\end{axis}
\begin{axis}[lpbot, at={(659.4pt,265.7pt)}, width=138.4pt, height=56.9pt, ymin=-0.15, ymax=3.15, ytick={0,1,2,3}]
\addplot[fs] coordinates {(1,0.05) (2,0.09) (3,0.15) (4,0.24) (5,0.36) (6,0.52) (7,0.74) (8,1.02) (9,1.35) (10,1.65) (10.7,1.76) (11,1.72) (12,1.5) (13,1.2) (14,0.92) (15,0.7) (16,0.52) (17,0.4) (18,0.3) (20,0.2) (22,0.14) (25,0.1) (30,0.07) (35,0.05) (40,0.04) (45,0.03) (52,0.02)};
\addplot[fd] coordinates {(1,0.02) (10,0.02) (52,0.01)};
\addplot[rs] coordinates {(1,0.05) (2,0.09) (3,0.15) (4,0.23) (5,0.33) (6,0.45) (7,0.6) (8,0.76) (9,0.92) (10,1.05) (11,1.12) (12,1.1) (13,1.05) (14,0.98) (15,0.9) (16,0.82) (17,0.74) (18,0.66) (19,0.58) (20,0.52) (22,0.42) (24,0.34) (26,0.29) (28,0.26) (30,0.24) (35,0.22) (40,0.21) (43,0.2) (45,0.17) (48,0.12) (52,0.07)};
\addplot[rd] coordinates {(1,0.02) (10,0.03) (20,0.04) (25,0.07) (27,0.13) (28,0.22) (29,0.45) (30,0.9) (31,1.45) (32,1.9) (33,2.3) (34,2.6) (35,2.8) (36,2.92) (37,2.95) (38,2.85) (39,2.6) (40,2.3) (41,1.95) (42,1.62) (43,1.3) (44,0.95) (45,0.62) (46,0.38) (47,0.22) (48,0.13) (50,0.06) (52,0.04)};
\addplot[vl] coordinates {(0,-0.15) (0,3.15)};
\addplot[tri] coordinates {(52,2.85)};
\end{axis}
% ---------- panel d lines ----------
\begin{axis}[lptop, at={(666pt,144.8pt)}, width=132.4pt, height=55.8pt, ymin=-0.09, ymax=1.95, ytick={0,0.5,1,1.5}, yticklabel style={/pgf/number format/.cd, fixed, fixed zerofill, precision=1}]
\addplot[fs] coordinates {(1,0.05) (2,0.09) (3,0.15) (4,0.24) (5,0.36) (6,0.52) (7,0.74) (8,1.02) (9,1.35) (10,1.65) (10.7,1.76) (11,1.72) (12,1.5) (13,1.2) (14,0.92) (15,0.7) (16,0.52) (17,0.4) (18,0.31) (20,0.22) (22,0.15) (25,0.1) (30,0.07) (35,0.05) (40,0.04) (45,0.03) (52,0.02)};
\addplot[fd] coordinates {(20,0.22) (21,0.1) (22,0.06) (24,0.04) (30,0.03) (52,0.02)};
\addplot[rs] coordinates {(1,0.05) (2,0.09) (3,0.15) (4,0.23) (5,0.33) (6,0.45) (7,0.6) (8,0.76) (9,0.92) (10,1.05) (11,1.12) (12,1.1) (13,1.05) (14,0.98) (15,0.9) (16,0.82) (17,0.74) (18,0.66) (19,0.58) (20,0.52) (22,0.42) (24,0.34) (26,0.29) (28,0.26) (30,0.24) (35,0.22) (40,0.21) (43,0.2) (45,0.17) (48,0.12) (52,0.07)};
\addplot[rd] coordinates {(20,0.52) (21,0.32) (22,0.33) (23,0.31) (24,0.27) (26,0.2) (28,0.16) (30,0.14) (35,0.13) (40,0.12) (44,0.11) (48,0.08) (52,0.05)};
\addplot[vl] coordinates {(20,-0.09) (20,1.95)};
\addplot[dot] coordinates {(52,1.81)};
\end{axis}
\begin{axis}[lpbot, at={(666pt,79.2pt)}, width=132.4pt, height=56.6pt, ymin=-0.09, ymax=1.95, ytick={0,0.5,1,1.5}, yticklabel style={/pgf/number format/.cd, fixed, fixed zerofill, precision=1}]
\addplot[fs] coordinates {(1,0.05) (2,0.09) (3,0.15) (4,0.24) (5,0.36) (6,0.52) (7,0.74) (8,1.02) (9,1.35) (10,1.65) (10.7,1.76) (11,1.72) (12,1.5) (13,1.2) (14,0.92) (15,0.7) (16,0.52) (17,0.4) (18,0.31) (20,0.22) (22,0.15) (25,0.1) (30,0.07) (35,0.05) (40,0.04) (45,0.03) (52,0.02)};
\addplot[fd] coordinates {(1,0.01) (52,0.01)};
\addplot[rs] coordinates {(1,0.05) (2,0.09) (3,0.15) (4,0.23) (5,0.33) (6,0.45) (7,0.6) (8,0.76) (9,0.92) (10,1.05) (11,1.12) (12,1.1) (13,1.05) (14,0.98) (15,0.9) (16,0.82) (17,0.74) (18,0.66) (19,0.58) (20,0.52) (22,0.42) (24,0.34) (26,0.29) (28,0.26) (30,0.24) (35,0.22) (40,0.21) (43,0.2) (45,0.17) (48,0.12) (52,0.07)};
\addplot[rd] coordinates {(1,0.02) (3,0.05) (5,0.1) (7,0.17) (9,0.27) (10,0.33) (11,0.4) (12,0.48) (13,0.58) (14,0.7) (15,0.83) (16,0.98) (17,1.12) (18,1.27) (19,1.42) (20,1.55) (21,1.67) (22,1.76) (23,1.83) (24,1.86) (25,1.82) (26,1.72) (27,1.57) (28,1.38) (29,1.18) (30,0.98) (31,0.8) (32,0.65) (33,0.52) (34,0.42) (35,0.35) (36,0.3) (38,0.24) (40,0.2) (42,0.17) (44,0.14) (46,0.12) (48,0.1) (50,0.07) (52,0.05)};
\addplot[vl] coordinates {(0,-0.09) (0,1.95)};
\addplot[tri] coordinates {(52,1.82)};
\end{axis}
% ---------- colour bar ----------
\begin{axis}[at={(224pt,32pt)}, anchor=south west, scale only axis, width=170pt, height=13.7pt,
  hide axis, xmin=0, xmax=1, ymin=0, ymax=1,
  colormap name=rr, point meta min=0, point meta max=1.45,
  colorbar horizontal,
  colorbar style={at={(parent axis.south west)}, anchor=south west,
    width=170pt, height=13.7pt, scale only axis,
    xtick={0,0.25,0.5,0.75,1,1.25}, ytick=\empty,
    axis line style={draw=none}, axis on top,
    tick align=inside, major tick length=4.5pt,
    xtick pos=both, xticklabel pos=lower,
    xtick style={white, line width=0.9pt},
    xticklabel style={font=\fK, text=tickgray, yshift=-1pt, /pgf/number format/.cd, fixed, fixed zerofill, precision=2, assume math mode=true}}]
\end{axis}
% ---------- texts ----------
\node[font=\fT, anchor=base west, inner sep=0] at (0.8pt,395.5pt) {a};
\node[font=\fT, anchor=base west, inner sep=0] at (32.3pt,395.5pt) {Temperate (\thl{} from Hong Kong)};
\node[font=\fT, anchor=base west, inner sep=0] at (404pt,395.5pt) {b};
\node[font=\fT, anchor=base west, inner sep=0] at (440pt,395.5pt) {Subtropical (\thl{}from Hong Kong)};
\node[font=\fT, anchor=base west, inner sep=0] at (0.8pt,209.5pt) {c};
\node[font=\fT, anchor=base west, inner sep=0] at (32.3pt,209.5pt) {Temperate (\thl{} from Canada)};
\node[font=\fT, anchor=base west, inner sep=0] at (404pt,209.5pt) {d};
\node[font=\fT, anchor=base west, inner sep=0] at (440pt,209.5pt) {Subtropical (\thl{} from Canada)};
\node[font=\fL, rotate=90] at (5pt,324.3pt) {Vaccine coverage (\%)};
\node[font=\fL, rotate=90] at (413pt,324.3pt) {Vaccine coverage (\%)};
\node[font=\fL, rotate=90] at (5pt,137.5pt) {Vaccine coverage (\%)};
\node[font=\fL, rotate=90] at (413pt,137.5pt) {Vaccine coverage (\%)};
\node[font=\fL, rotate=90] at (229pt,326.5pt) {Incidence (\%)};
\node[font=\fL, rotate=90] at (637.5pt,326.5pt) {Incidence (\%)};
\node[font=\fL, rotate=90] at (229pt,139pt) {Incidence (\%)};
\node[font=\fL, rotate=90] at (637.5pt,139pt) {Incidence (\%)};
\node[font=\fL] at (119.3pt,240.7pt) {Week of vaccination};
\node[font=\fL] at (527.8pt,240.7pt) {Week of vaccination};
\node[font=\fL] at (119.3pt,54.3pt) {Week of vaccination};
\node[font=\fL] at (527.8pt,54.3pt) {Week of vaccination};
\node[font=\fL] at (320.2pt,240.7pt) {Time (weeks)};
\node[font=\fL] at (728.6pt,240.7pt) {Time (weeks)};
\node[font=\fL] at (320.2pt,54.3pt) {Time (weeks)};
\node[font=\fL] at (732.2pt,54.3pt) {Time (weeks)};
% ---------- legends ----------
\node[font=\fL] at (207pt,21pt) {RR};
\node[font=\fL] at (439pt,22pt) {Virus};
\draw[flu, line width=1.3pt] (461pt,22pt) -- (475pt,22pt);
\node[font=\fS, anchor=west, inner sep=0] at (485pt,22pt) {Influenza};
\draw[rsv, line width=1.3pt] (533pt,22pt) -- (547pt,22pt);
\node[font=\fS, anchor=west, inner sep=0] at (557pt,22pt) {RSV};
\end{tikzpicture}
\end{document}
